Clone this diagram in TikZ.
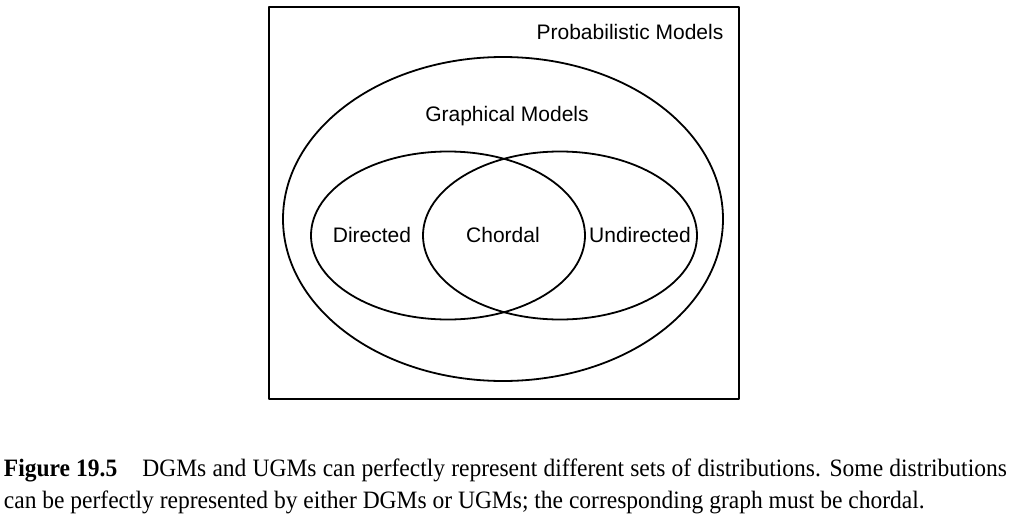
\documentclass[tikz,border=0pt]{standalone}
\usepackage{fontspec}
\setmainfont{Liberation Serif}
\newfontfamily\labelfont{Liberation Sans}
\newfontfamily\capfont[FakeStretch=0.94]{Liberation Serif}

\begin{document}
\begin{tikzpicture}[x=1pt,y=-1pt, line width=1.8pt, line join=round, line cap=round]
	\useasboundingbox (0,0) rectangle (1009,514);
	\path (269,7)coordinate(A) (739,399)coordinate(B)
	(503,219)coordinate(G) (448,235.5)coordinate(D) (560,235.5)coordinate(U);
	\draw (A) rectangle (B);
	\draw (G) ellipse [x radius=220, y radius=162];
	\draw (D) ellipse [x radius=137, y radius=84];
	\draw (U) ellipse [x radius=137, y radius=84];
	\foreach \n/\x/\y/\t in {prob/630/39/Probabilistic Models,graph/507/121/Graphical Models,
		dir/372/242/Directed,chord/503/242/Chordal,undir/640/242/Undirected}
	{
		\node[anchor=base, inner sep=0pt, font=\labelfont\fontsize{21}{25}\selectfont] (\n) at (\x,\y) {\t};
	}
	\node[anchor=base west, inner sep=0pt, font=\capfont\fontsize{25}{30}\selectfont] (cap1) at (3,476)
	{\makebox[1003pt][s]{\textbf{Figure 19.5}\quad DGMs and UGMs can perfectly represent different sets of distributions. Some distributions}};
	\node[anchor=base west, inner sep=0pt, font=\capfont\fontsize{25}{30}\selectfont] (cap2) at (3,508)
	{can be perfectly represented by either DGMs or UGMs; the corresponding graph must be chordal.};
\end{tikzpicture}
\end{document}
